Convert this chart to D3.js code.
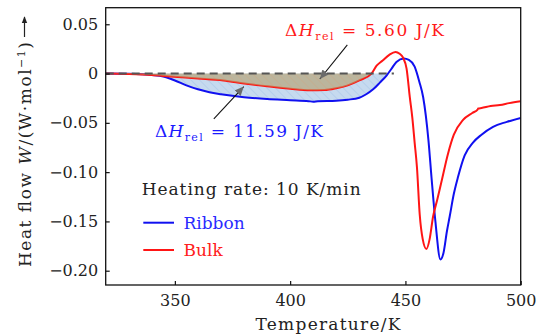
<!DOCTYPE html>
<html>
<head>
<meta charset="utf-8">
<script src="https://cdn.jsdelivr.net/npm/d3@7"></script>
<style>
  body { margin: 0; background: #fff; }
  svg { display: block; font-family: "DejaVu Serif", "Liberation Serif", serif; }
</style>
</head>
<body>
<svg id="chart" width="544" height="334"></svg>
<script>
// Ribbon (blue) curve, temperature in K and heat flow in W/mol
const ribbonT = [320, 330, 340, 345, 350, 355, 360, 365, 370, 380, 390, 400, 408, 410, 412, 420, 425, 430, 433, 436, 439, 441.8, 444, 446.1, 449.3, 451.5, 454, 456, 457.7, 460, 461.3, 463, 465.2, 466.5, 468, 469.2, 471, 472.8, 475.7, 479.3, 483, 488, 494, 500];
const ribbonW = [0, -0.0003, -0.0015, -0.003, -0.007, -0.012, -0.016, -0.019, -0.021, -0.024, -0.0258, -0.027, -0.028, -0.0285, -0.028, -0.0275, -0.0265, -0.0245, -0.021, -0.016, -0.009, -0.002, 0.005, 0.0118, 0.0152, 0.0138, 0.007, -0.008, -0.024, -0.068, -0.105, -0.15, -0.1886, -0.182, -0.16, -0.145, -0.122, -0.105, -0.083, -0.07, -0.062, -0.054, -0.049, -0.045];

// Bulk (red) curve
const bulkT = [320, 330, 340, 348, 360, 371, 380, 390, 400, 408.6, 415, 420, 425, 430, 435.3, 437.5, 440, 443, 445.7, 447.5, 449, 450.5, 451.9, 453, 454, 455, 456.2, 457.5, 459.1, 460.5, 462, 463.8, 465.6, 468.5, 471, 475, 479, 481.3, 481.6, 483, 487, 491, 495, 500];
const bulkW = [0, -0.0005, -0.0015, -0.003, -0.005, -0.007, -0.01, -0.013, -0.0155, -0.017, -0.0168, -0.015, -0.012, -0.007, 0, 0.008, 0.013, 0.019, 0.0219, 0.02, 0.016, 0.005, -0.024, -0.045, -0.07, -0.095, -0.143, -0.168, -0.178, -0.168, -0.145, -0.128, -0.11, -0.081, -0.062, -0.047, -0.04, -0.0365, -0.0355, -0.035, -0.033, -0.032, -0.03, -0.028];

// axes
const xTicks = [350, 400, 450, 500];
const yTicks = [0.05, 0, -0.05, -0.10, -0.15, -0.20];
const yTickLabels = ["0.05", "0", "\u22120.05", "\u22120.10", "\u22120.15", "\u22120.20"];

// shaded relaxation areas end where each curve crosses zero
const ribbonAreaEnd = 441.8;
const bulkAreaEnd = 435.3;
const baselineEnd = 445;

// annotation arrows [tailT, tailW, tipT, tipW]
const bulkArrow = [424.8, 0.0291, 412.9, -0.0055];
const ribbonArrow = [366.9, -0.046, 379.9, -0.0132];

const width = 544, height = 334;
const margin = {top: 7.7, right: 23.3, bottom: 49, left: 105.7};

const svg = d3.select("#chart");

const x = d3.scaleLinear().domain([320, 500]).range([margin.left, width - margin.right]);
const y = d3.scaleLinear().domain([-0.2145, 0.0668]).range([height - margin.bottom, margin.top]);

const ribbon = ribbonT.map((t, i) => ({t: t, w: ribbonW[i]}));
const bulk = bulkT.map((t, i) => ({t: t, w: bulkW[i]}));

// patterns for the hatched areas
const defs = svg.append("defs");

const pBlue = defs.append("pattern")
    .attr("id", "hatch-blue")
    .attr("patternUnits", "userSpaceOnUse")
    .attr("width", 6).attr("height", 6)
    .attr("patternTransform", "rotate(-45)");
pBlue.append("rect").attr("width", 6).attr("height", 6).attr("fill", "#c6daef");
pBlue.append("line").attr("x1", 0).attr("y1", 0).attr("x2", 0).attr("y2", 6)
    .attr("stroke", "#a9c6e8").attr("stroke-width", 1.1);

const pBrown = defs.append("pattern")
    .attr("id", "hatch-brown")
    .attr("patternUnits", "userSpaceOnUse")
    .attr("width", 6).attr("height", 6)
    .attr("patternTransform", "rotate(-45)");
pBrown.append("rect").attr("width", 6).attr("height", 6).attr("fill", "#b49c66");
pBrown.append("line").attr("x1", 0).attr("y1", 0).attr("x2", 0).attr("y2", 6)
    .attr("stroke", "#d9994f").attr("stroke-width", 1.2);

defs.append("marker")
    .attr("id", "arrowhead")
    .attr("viewBox", "0 -5 10 10")
    .attr("refX", 10).attr("refY", 0)
    .attr("markerWidth", 9).attr("markerHeight", 9)
    .attr("markerUnits", "userSpaceOnUse")
    .attr("orient", "auto")
    .append("path")
    .attr("d", "M0,-4.5L10,0L0,4.5Z")
    .attr("fill", "#6b6b6b");

defs.append("marker")
    .attr("id", "ylabel-arrow")
    .attr("viewBox", "0 -5 10 10")
    .attr("refX", 9).attr("refY", 0)
    .attr("markerWidth", 7).attr("markerHeight", 7)
    .attr("markerUnits", "userSpaceOnUse")
    .attr("orient", "auto")
    .append("path")
    .attr("d", "M0,-4L10,0L0,4Z")
    .attr("fill", "#222");

// areas
const area = d3.area()
    .x(d => x(d.t))
    .y0(y(0))
    .y1(d => y(Math.min(d.w, 0)))
    .curve(d3.curveMonotoneX);

svg.append("path")
    .datum(ribbon.filter(d => d.t <= ribbonAreaEnd))
    .attr("d", area)
    .attr("fill", "url(#hatch-blue)");

// lines
const line = d3.line()
    .x(d => x(d.t))
    .y(d => y(d.w))
    .curve(d3.curveMonotoneX);

svg.append("path")
    .datum(ribbon)
    .attr("d", line)
    .attr("fill", "none")
    .attr("stroke", "#1010f0")
    .attr("stroke-width", 2);

svg.append("path")
    .datum(bulk)
    .attr("d", line)
    .attr("fill", "none")
    .attr("stroke", "#ff1515")
    .attr("stroke-width", 2);

svg.append("path")
    .datum(bulk.filter(d => d.t <= bulkAreaEnd))
    .attr("d", area)
    .attr("fill", "url(#hatch-brown)")
    .attr("opacity", 0.6);

// dashed zero baseline
svg.append("line")
    .attr("x1", x(320)).attr("x2", x(baselineEnd))
    .attr("y1", y(0)).attr("y2", y(0))
    .attr("stroke", "#555")
    .attr("stroke-width", 2)
    .attr("stroke-dasharray", "8,5");

// frame
svg.append("rect")
    .attr("x", margin.left).attr("y", margin.top)
    .attr("width", width - margin.left - margin.right)
    .attr("height", height - margin.top - margin.bottom)
    .attr("fill", "none")
    .attr("stroke", "#111")
    .attr("stroke-width", 1.3);

// axes
const xAxis = svg.append("g")
    .attr("transform", `translate(0,${height - margin.bottom})`)
    .call(d3.axisBottom(x).tickValues(xTicks).tickSize(-4).tickPadding(10).tickFormat(d3.format("d")));

const yAxis = svg.append("g")
    .attr("transform", `translate(${margin.left},0)`)
    .call(d3.axisLeft(y).tickValues(yTicks).tickSize(-4).tickPadding(7.5)
        .tickFormat((d, i) => yTickLabels[i]));

[xAxis, yAxis].forEach(g => {
    g.select(".domain").remove();
    g.selectAll(".tick line").attr("stroke", "#111").attr("stroke-width", 1.2);
    g.selectAll(".tick text")
        .attr("fill", "#222")
        .style("font-family", "'DejaVu Serif', serif")
        .style("font-size", "16px");
});

// arrows
[bulkArrow, ribbonArrow].forEach(a => {
    svg.append("line")
        .attr("x1", x(a[0])).attr("y1", y(a[1]))
        .attr("x2", x(a[2])).attr("y2", y(a[3]))
        .attr("stroke", "#111")
        .attr("stroke-width", 1.1)
        .attr("marker-end", "url(#arrowhead)");
});

// Delta H annotations
function deltaH(xPos, yPos, value, color, len) {
    const t = svg.append("text")
        .attr("x", xPos).attr("y", yPos)
        .attr("fill", color)
        .style("font-size", "17px");
    t.append("tspan").text("\u0394");
    t.append("tspan").style("font-style", "italic").text("H");
    t.append("tspan").attr("dy", 4).style("font-size", "11px").text("rel");
    t.append("tspan").attr("dy", -4).text(" = " + value + " J/K");
    t.attr("textLength", len).attr("lengthAdjust", "spacing");
}
deltaH(285, 36, "5.60", "#ff1a1a", 159);
deltaH(155, 137, "11.59", "#1a1aff", 168);

svg.append("text")
    .attr("x", 141.7).attr("y", 195)
    .attr("fill", "#222")
    .style("font-size", "17px")
    .attr("textLength", 219).attr("lengthAdjust", "spacing")
    .text("Heating rate: 10 K/min");

// legend
const legend = [
    {name: "Ribbon", color: "#1010f0", text: "#2a2aff"},
    {name: "Bulk", color: "#ff1515", text: "#ff2020"}
];
legend.forEach((d, i) => {
    const ly = 222.7 + i * 27.3;
    svg.append("line")
        .attr("x1", 143.3).attr("x2", 174)
        .attr("y1", ly).attr("y2", ly)
        .attr("stroke", d.color)
        .attr("stroke-width", 2);
    svg.append("text")
        .attr("x", 183.5).attr("y", ly + 5.8)
        .attr("fill", d.text)
        .style("font-size", "17px")
        .text(d.name);
});

// axis titles
svg.append("text")
    .attr("x", 328).attr("y", 330)
    .attr("text-anchor", "middle")
    .attr("fill", "#222")
    .style("font-size", "17px")
    .attr("textLength", 145).attr("lengthAdjust", "spacing")
    .text("Temperature/K");

const yl = svg.append("text")
    .attr("transform", "translate(31,154.5) rotate(-90)")
    .attr("text-anchor", "middle")
    .attr("fill", "#222")
    .style("font-size", "17px");
yl.append("tspan").text("Heat flow ");
yl.append("tspan").style("font-style", "italic").text("W");
yl.append("tspan").text("/(W\u00b7mol");
yl.append("tspan").attr("dy", -6).style("font-size", "11px").text("\u22121");
yl.append("tspan").attr("dy", 6).text(")");
yl.attr("textLength", 225).attr("lengthAdjust", "spacing");

svg.append("line")
    .attr("x1", 24.5).attr("x2", 24.5)
    .attr("y1", 37).attr("y2", 17)
    .attr("stroke", "#222")
    .attr("stroke-width", 1.2)
    .attr("marker-end", "url(#ylabel-arrow)");
</script>
</body>
</html>
